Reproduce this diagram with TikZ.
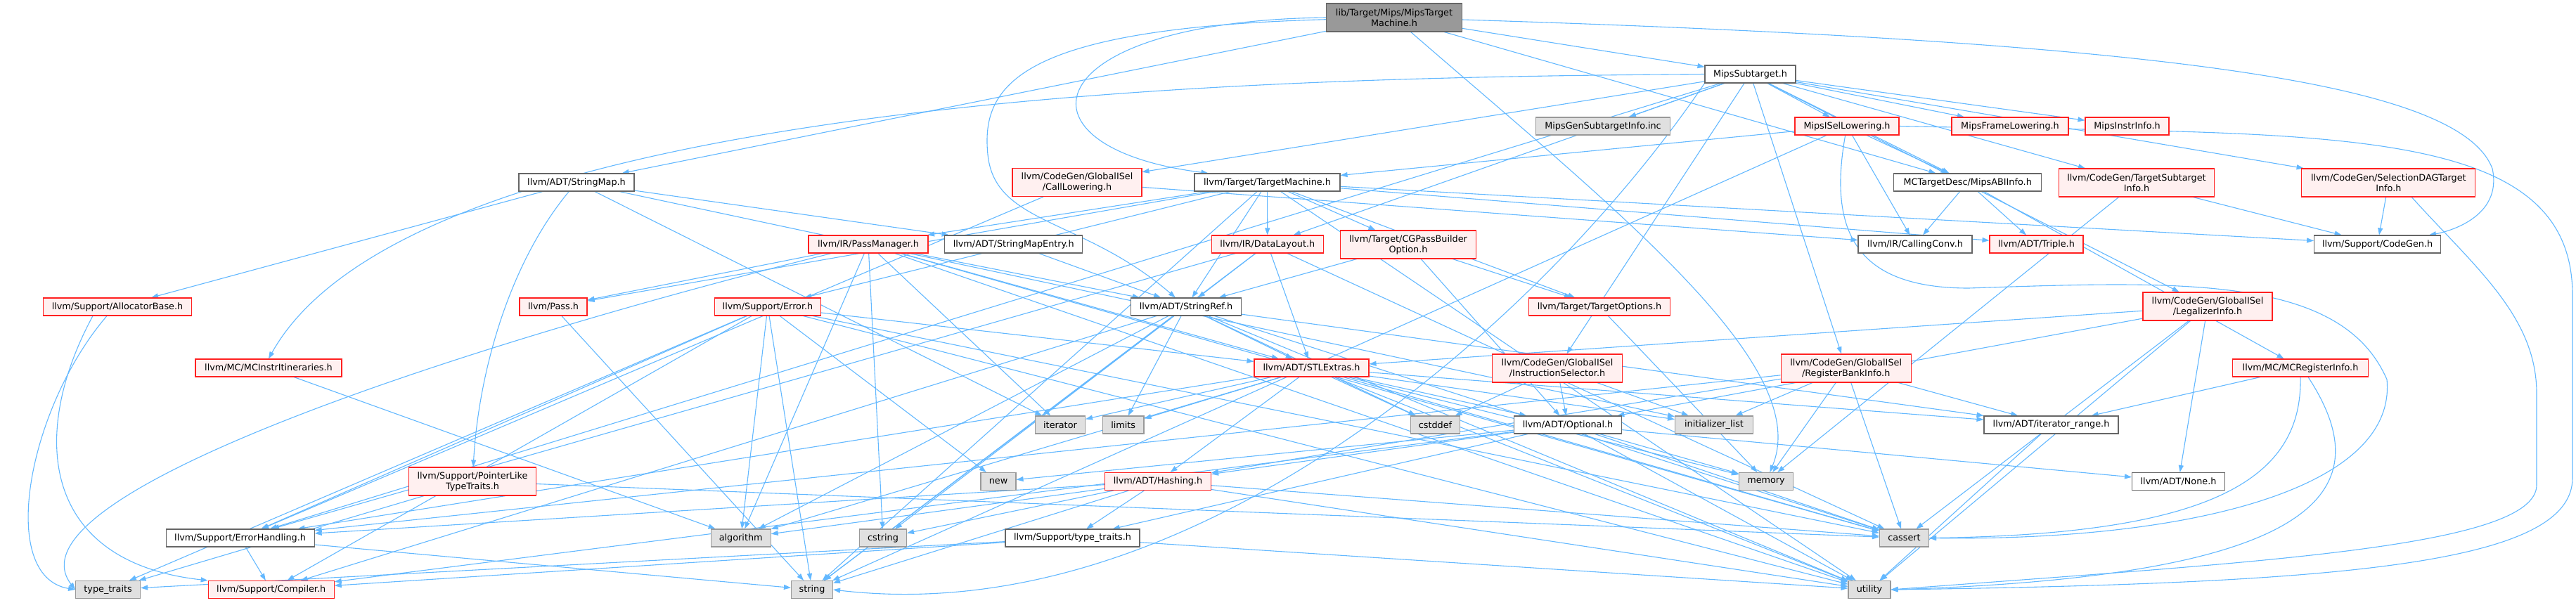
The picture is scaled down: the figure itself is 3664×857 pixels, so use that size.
\documentclass[tikz,border=0pt]{standalone}
\usepackage{fontspec}
\setmainfont{DejaVu Sans}
\usetikzlibrary{arrows.meta}
\pgfdeclarelayer{bg}
\pgfsetlayers{bg,main}
\definecolor{edgec}{HTML}{63B8FF}
\definecolor{redfill}{HTML}{FFF0F0}
\definecolor{grayfill}{HTML}{E0E0E0}
\definecolor{grayline}{HTML}{999999}
\definecolor{darkline}{HTML}{666666}
\definecolor{rootfill}{HTML}{999999}
\definecolor{redline}{HTML}{FF2020}
\tikzset{
  box/.style={draw, line width=1.1pt, inner sep=0pt, align=center,
    font=\fontsize{12.8}{15}\selectfont, text=black, minimum height=25pt},
  wbox/.style={box, draw=darkline, fill=white},
  rbox/.style={box, draw=redline, fill=redfill},
  gbox/.style={box, draw=grayline, fill=grayfill},
  rootbox/.style={box, draw=darkline, fill=rootfill},
  tall/.style={minimum height=40pt},
  e/.style={draw=edgec, line width=1.1pt, -{Triangle[length=10pt,width=7pt]}},
}
\begin{document}
\begin{tikzpicture}[x=1pt,y=-1pt]
\useasboundingbox (0,0) rectangle (3664,857);
% row 0
\node[rootbox, tall, minimum width=193pt] (root) at (1983,25) {lib/Target/Mips/MipsTarget\\Machine.h};
% row 1
\node[wbox, minimum width=129pt] (msub) at (2489.5,105.5) {MipsSubtarget.h};
% row 2
\node[gbox, minimum width=191pt] (gen) at (2280,179.5) {MipsGenSubtargetInfo.inc};
\node[rbox, minimum width=148pt] (isel) at (2627,179.5) {MipsISelLowering.h};
\node[rbox, minimum width=166pt] (frame) at (2859,179.5) {MipsFrameLowering.h};
\node[rbox, minimum width=119pt] (instr) at (3025.5,179.5) {MipsInstrInfo.h};
% row 3
\node[wbox, minimum width=164pt] (smap) at (820,259.5) {llvm/ADT/StringMap.h};
\node[rbox, tall, minimum width=184pt] (cl) at (1532,259.5) {llvm/CodeGen/GlobalISel\\/CallLowering.h};
\node[wbox, minimum width=207pt] (tm) at (1802.5,259.5) {llvm/Target/TargetMachine.h};
\node[wbox, minimum width=210pt] (abi) at (2798.7,259.5) {MCTargetDesc/MipsABIInfo.h};
\node[rbox, tall, minimum width=221pt] (tsi) at (3039,260) {llvm/CodeGen/TargetSubtarget\\Info.h};
\node[rbox, tall, minimum width=247pt] (sdag) at (3397.3,260) {llvm/CodeGen/SelectionDAGTarget\\Info.h};
% row 4
\node[rbox, minimum width=170pt] (pm) at (1235,347.5) {llvm/IR/PassManager.h};
\node[wbox, minimum width=196pt] (sme) at (1441.7,347.5) {llvm/ADT/StringMapEntry.h};
\node[rbox, minimum width=159pt] (dl) at (1802.8,347.5) {llvm/IR/DataLayout.h};
\node[rbox, tall, minimum width=193pt] (cgp) at (2003,348) {llvm/Target/CGPassBuilder\\Option.h};
\node[wbox, minimum width=162pt] (cc) at (2724,347.5) {llvm/IR/CallingConv.h};
\node[rbox, minimum width=133pt] (triple) at (2896.5,347.5) {llvm/ADT/Triple.h};
\node[wbox, minimum width=180pt] (cg) at (3381.6,347.5) {llvm/Support/CodeGen.h};
% row 5
\node[rbox, minimum width=211pt] (alloc) at (167,436.5) {llvm/Support/AllocatorBase.h};
\node[rbox, minimum width=96pt] (pass) at (787,436.5) {llvm/Pass.h};
\node[rbox, minimum width=151pt] (err) at (1092,436.5) {llvm/Support/Error.h};
\node[wbox, minimum width=157pt] (sref) at (1687,436.5) {llvm/ADT/StringRef.h};
\node[rbox, minimum width=201pt] (topt) at (2275,436.5) {llvm/Target/TargetOptions.h};
\node[rbox, tall, minimum width=184pt] (legal) at (3140,436) {llvm/CodeGen/GlobalISel\\/LegalizerInfo.h};
% row 6
\node[rbox, minimum width=208pt] (mcii) at (382,523.5) {llvm/MC/MCInstrItineraries.h};
\node[rbox, minimum width=163pt] (stl) at (1865.5,523.5) {llvm/ADT/STLExtras.h};
\node[rbox, tall, minimum width=185pt] (isel2) at (2215,524) {llvm/CodeGen/GlobalISel\\/InstructionSelector.h};
\node[rbox, tall, minimum width=185pt] (rbi) at (2625.7,524) {llvm/CodeGen/GlobalISel\\/RegisterBankInfo.h};
\node[rbox, minimum width=193pt] (mcreg) at (3272,523.5) {llvm/MC/MCRegisterInfo.h};
% row 7
\node[gbox, minimum width=71pt] (iter) at (1508,604.5) {iterator};
\node[gbox, minimum width=58.5pt] (limits) at (1597.7,604.5) {limits};
\node[gbox, minimum width=70pt] (cstddef) at (2041.5,604.5) {cstddef};
\node[wbox, minimum width=153pt] (opt) at (2230,604.5) {llvm/ADT/Optional.h};
\node[gbox, minimum width=111pt] (initl) at (2438,604.5) {initializer\_list};
\node[wbox, minimum width=191pt] (itr) at (2917.5,604.5) {llvm/ADT/iterator\_range.h};
% row 8
\node[rbox, tall, minimum width=181pt] (ptl) at (672,685) {llvm/Support/PointerLike\\TypeTraits.h};
\node[gbox, minimum width=50pt] (nnew) at (1420,685) {new};
\node[rbox, minimum width=151pt] (hash) at (1647,685) {llvm/ADT/Hashing.h};
\node[gbox, minimum width=77pt] (memory) at (2512,685) {memory};
\node[wbox, minimum width=132pt] (none) at (3098.5,685) {llvm/ADT/None.h};
% row 9
\node[wbox, minimum width=211pt] (eh) at (341.6,765.5) {llvm/Support/ErrorHandling.h};
\node[gbox, minimum width=85pt] (algo) at (1053.7,765.5) {algorithm};
\node[gbox, minimum width=67pt] (cstring) at (1256,765.5) {cstring};
\node[wbox, minimum width=191pt] (stt) at (1525.5,765.5) {llvm/Support/type\_traits.h};
\node[gbox, minimum width=70pt] (cassert) at (2708.5,765.5) {cassert};
% row 10
\node[gbox, minimum width=92pt] (tt) at (153.6,839) {type\_traits};
\node[rbox, minimum width=179pt] (comp) at (385.7,839) {llvm/Support/Compiler.h};
\node[gbox, minimum width=59pt] (nstring) at (1155,839) {string};
\node[gbox, minimum width=60pt] (utility) at (2659,839) {utility};

\begin{pgfonlayer}{bg}
\foreach \s/\t in {
  root/msub, root/abi, root/smap,
  msub/abi, msub/frame, msub/isel, msub/instr, msub/cl, msub/isel2, msub/legal,
  msub/rbi, msub/sdag, msub/tsi, msub/dl, msub/eh, msub/gen,
  isel/abi, isel/cc, isel/tm, isel/nstring,
  abi/triple, abi/cc, abi/mcreg,
  tsi/cg, tsi/memory,
  sdag/cg,
  cl/cc, cl/eh,
  isel2/opt, isel2/cstddef, isel2/initl,
  rbi/hash, rbi/itr, rbi/eh, rbi/cassert, rbi/initl, rbi/memory,
  legal/none, legal/opt, legal/stl, legal/cassert, legal/utility,
  mcreg/itr,
  mcii/algo,
  tm/sref, tm/triple, tm/dl, tm/pm, tm/cg, tm/err, tm/cgp, tm/topt, tm/pass, tm/nstring, tm/utility,
  dl/stl, dl/sref, dl/eh, dl/cassert, dl/nstring,
  cgp/opt, cgp/sref, cgp/topt,
  topt/memory,
  pm/sref, pm/stl, pm/pass, pm/cassert, pm/cstring, pm/iter, pm/utility, pm/algo,
  smap/sme, smap/alloc, smap/initl, smap/iter,
  sme/sref,
  pass/nstring,
  err/stl, err/comp, err/eh, err/algo, err/cassert, err/nnew, err/nstring, err/tt, err/utility,
  sref/stl, sref/itr, sref/comp, sref/algo, sref/cassert, sref/cstddef, sref/cstring, sref/limits, sref/nstring, sref/utility,
  stl/hash, stl/itr, stl/eh, stl/opt, stl/algo, stl/cassert, stl/cstddef, stl/initl, stl/iter, stl/limits, stl/memory, stl/utility,
  opt/hash, opt/none, opt/comp, opt/stt, opt/cassert, opt/memory, opt/nnew, opt/utility,
  hash/eh, hash/stt, hash/algo, hash/cassert, hash/cstring, hash/nstring, hash/utility,
  stt/comp, stt/tt, stt/utility,
  eh/comp, eh/nstring,
  ptl/cassert, ptl/tt,
  itr/utility}
  \draw[e] (\s) -- (\t);
% routed edges
\draw[e] (root.west) .. controls (1470,30) and (1430,210) .. ([xshift=20pt]tm.north west);
\draw[e] (root) .. controls (1450,40) and (1395,120) .. (1405,220) .. controls (1415,320) and (1540,310) .. (sref);
\draw[e] (root) .. controls (3100,60) and (3500,120) .. (3545,240) .. controls (3560,310) and (3480,330) .. (cg);
\draw[e] (root) .. controls (2300,300) and (2580,520) .. (memory);
\draw[e] (msub.west) .. controls (1900,110) and (600,120) .. (mcii.north);
\draw[e] (msub.south west) .. controls (2200,450) and (1700,900) .. (nstring.east);
\draw[e] (smap) .. controls (720,380) and (680,540) .. (ptl);
\draw[e] ([xshift=-15pt]alloc.south) .. controls (40,580) and (-5,820) .. (tt.west);
\draw[e] ([xshift=-35pt]alloc.south) .. controls (40,620) and (60,800) .. (comp.north west);
\draw[e] (pm) .. controls (700,480) and (0,700) .. (tt.west);
\draw[e] (isel.east) .. controls (3300,192) and (3659,170) .. (3659,420) -- (3659,680) .. controls (3659,800) and (3350,830) .. (utility.east);
\draw[e] (isel) .. controls (2600,330) and (2640,410) .. (2800,410) .. controls (3100,400) and (3330,390) .. (3395,540) .. controls (3410,700) and (3100,770) .. (cassert.east);
\draw[e] ([xshift=33pt]sdag.south) .. controls (3520,380) and (3608,450) .. (3608,560) -- (3608,690) .. controls (3608,780) and (3200,800) .. (utility.east);
\draw[e] (mcreg.south) .. controls (3275,680) and (3150,760) .. (cassert.east);
\draw[e] ([xshift=11pt]mcreg.south) .. controls (3390,700) and (3300,820) .. (utility.east);
\end{pgfonlayer}
\end{tikzpicture}
\end{document}
